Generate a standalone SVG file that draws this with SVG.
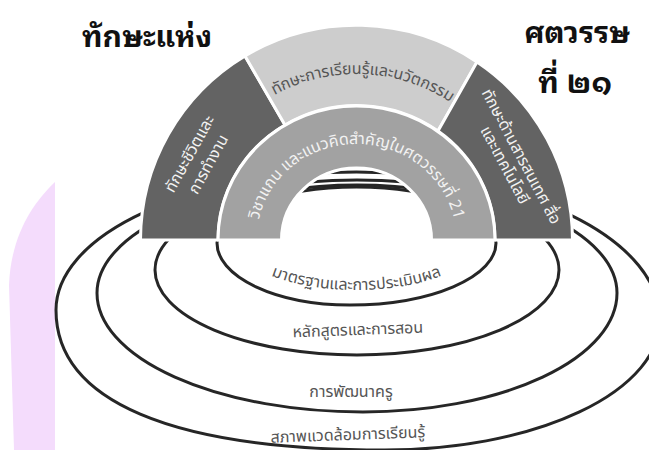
<svg xmlns="http://www.w3.org/2000/svg" width="649" height="450" viewBox="0 0 649 450">
<style>
.seg{stroke:#ffffff;stroke-width:3;stroke-linejoin:round}
.dark{fill:#636363}
.light{fill:#cdcdcd}
.mid{fill:#a2a2a2}
.ring{fill:none;stroke:#262626;stroke-width:3}
.t{font-family:"Noto Sans Thai","Noto Sans","DejaVu Sans",sans-serif}
.title{font-family:"Noto Sans Thai Looped","Noto Sans",sans-serif;font-weight:bold;font-size:30px;fill:#111111;text-anchor:middle}
.wt{font-size:16px;fill:#f2f2f2;text-anchor:middle}
.gt{font-size:16px;fill:#555555;text-anchor:middle}
</style>
<defs>
<path id="arcLight" d="M188.5,240 A168,166 0 0,1 524.5,240"/>
<path id="arcMid" d="M256.5,240 A100,96 0 0,1 456.5,240"/>
<path id="arcStd" d="M234.5,240 A122,50 0 0,0 478.5,240"/>
</defs>
<path id="bg-pink" d="M55,182 C32,204 11,236 9,285 L14,450 L55,450 Z" fill="#f4dcfc"/>
<g id="connectors">
<path class="ring" d="M56,310 A300.5,138 0 0,1 356.5,172 A303.5,148 0 0,1 660,320 A275,130 0 0,1 385,450 C171,450 56,401 56,310 Z"/>
<path class="ring" d="M97,293 A260,113 0 0,1 357,180 A260,113 0 0,1 617,293 A254,119 0 0,1 363,412 A266,119 0 0,1 97,293 Z"/>
<ellipse class="ring" cx="357" cy="270" rx="202" ry="85"/>
<path class="ring" d="M217,243 A139.5,56 0 0,1 356.5,187 A139.5,56 0 0,1 496,243 A146,62 0 0,1 350,305 A133,62 0 0,1 217,243 Z"/>
</g>
<g id="node-life">
<path class="seg dark" d="M140.5,240 A216,215 0 0,1 245,56 L285,125 A138.5,134 0 0,0 218,240 Z"/>
<text class="t wt" transform="translate(199,159) rotate(-61)"><tspan x="0" y="-5.5">ทักษะชีวิตและ</tspan><tspan x="0" y="16">การทำงาน</tspan></text>
</g>
<g id="node-learn">
<path class="seg light" d="M245,56 A216,215 0 0,1 477,62 L438,131 A138.5,134 0 0,0 285,125 Z"/>
<text class="t" font-size="16" fill="#555555" text-anchor="middle"><textPath href="#arcLight" startOffset="51.3%">ทักษะการเรียนรู้และนวัตกรรม</textPath></text>
</g>
<g id="node-ict">
<path class="seg dark" d="M477,62 A216,215 0 0,1 572.5,240 L495,240 A138.5,134 0 0,0 438,131 Z"/>
<text class="t wt" transform="translate(513.5,160.5) rotate(62)"><tspan x="0" y="-3.5">ทักษะด้านสารสนเทศ สื่อ</tspan><tspan x="0" y="15">และเทคโนโลยี</tspan></text>
</g>
<g id="node-core">
<path class="seg mid" d="M218,240 A138.5,134 0 0,1 495,240 L431.5,240 A75,72 0 0,0 281.5,240 Z"/>
<text class="t" font-size="16" fill="#f2f2f2" text-anchor="middle"><textPath href="#arcMid" startOffset="50%">วิชาแกน และแนวคิดสำคัญในศตวรรษที่ 21</textPath></text>
</g>
<g id="node-standard">
<text class="t" font-size="16" fill="#555555" text-anchor="middle"><textPath href="#arcStd" startOffset="50%">มาตรฐานและการประเมินผล</textPath></text>
</g>
<g id="node-curriculum">
<text class="t gt" transform="translate(358,335) rotate(-2)" x="0" y="0">หลักสูตรและการสอน</text>
</g>
<g id="node-teacher">
<text class="t gt" x="351" y="397" font-size="17">การพัฒนาครู</text>
</g>
<g id="node-environment">
<text class="t gt" transform="translate(348,440) rotate(-2)" x="0" y="0">สภาพแวดล้อมการเรียนรู้</text>
</g>
<g id="title">
<text class="title" x="147" y="47">ทักษะแห่ง</text>
<text class="title" x="577" y="43">ศตวรรษ</text>
<text class="title" x="575" y="93">ที่ ๒๑</text>
</g>
</svg>
